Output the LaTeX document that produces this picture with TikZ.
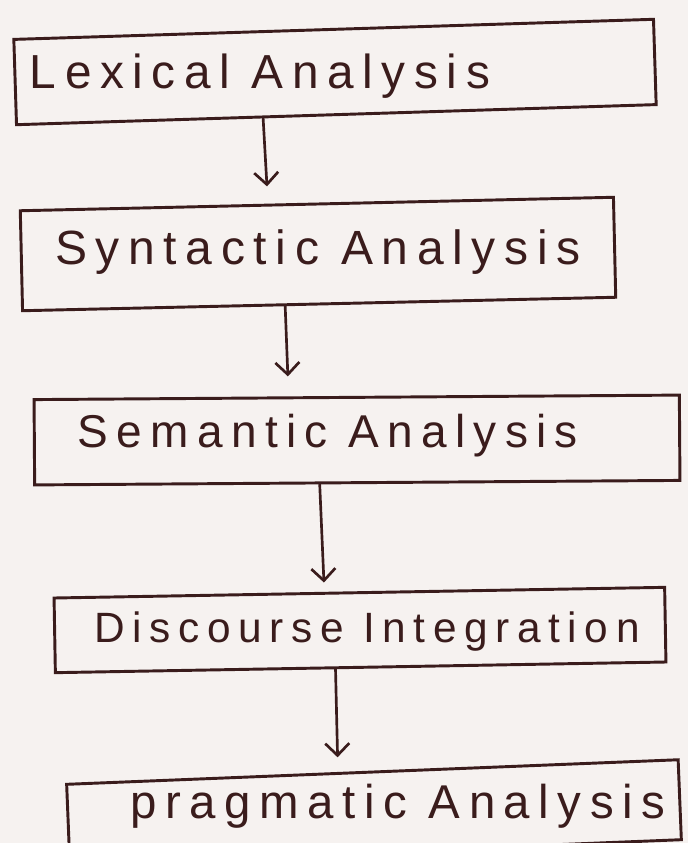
\documentclass[tikz,border=0pt]{standalone}
\usepackage{fontspec}
\setmainfont{Liberation Sans}
\usetikzlibrary{arrows.meta,calc}
\definecolor{ink}{HTML}{3A1C1C}
\definecolor{paper}{HTML}{F6F2F0}
\newcommand\hwtext[2]{\resizebox{#1}{!}{\fontsize{27}{30}\selectfont\addfontfeature{LetterSpace=18}#2}}
\begin{document}
\begin{tikzpicture}[x=0.75pt,y=-0.75pt,
  box/.style={draw=ink, line width=2.2pt, rectangle, inner sep=0pt},
  lbl/.style={text=ink, inner sep=0pt},
  arr/.style={draw=ink, line width=2pt, line cap=round, -{Straight Barb[length=9pt,width=18pt,line width=2pt]}}]
\fill[paper] (0,0) rectangle (688,843);
\useasboundingbox (0,0) rectangle (688,843);

\node[box, rotate=1.8, minimum width=480pt, minimum height=64pt] (b1) at (335,72) {};
\node[box, rotate=1.3, minimum width=445pt, minimum height=75pt] (b2) at (318,254) {};
\node[box, rotate=0.4, minimum width=484pt, minimum height=64pt] (b3) at (357,440) {};
\node[box, rotate=1.0, minimum width=458pt, minimum height=56pt] (b4) at (360,630) {};
\node[box, rotate=2.3, minimum width=459pt, minimum height=60pt] (b5) at (374,812) {};

\node[lbl] (t1) at (260,76) {\hwtext{345pt}{Lexical Analysis}};
\node[lbl] (t2) at (318,252) {\hwtext{394pt}{Syntactic Analysis}};
\node[lbl] (t3) at (328,436) {\hwtext{375pt}{Semantic Analysis}};
\node[lbl] (t4) at (367,632) {\hwtext{409pt}{Discourse Integration}};
\node[lbl] (t5) at (398,806) {\hwtext{401pt}{pragmatic Analysis}};

\draw[arr, shorten >=13pt] ($(b1.south west)!0.386!(b1.south east)$) -- ($(b2.north west)!0.418!(b2.north east)$);
\draw[arr, shorten >=15pt] ($(b2.south west)!0.443!(b2.south east)$) -- ($(b3.north west)!0.395!(b3.north east)$);
\draw[arr, shorten >=7pt] ($(b3.south west)!0.442!(b3.south east)$) -- ($(b4.north west)!0.443!(b4.north east)$);
\draw[arr, shorten >=11pt] ($(b4.south west)!0.459!(b4.south east)$) -- ($(b5.north west)!0.444!(b5.north east)$);
\end{tikzpicture}
\end{document}
